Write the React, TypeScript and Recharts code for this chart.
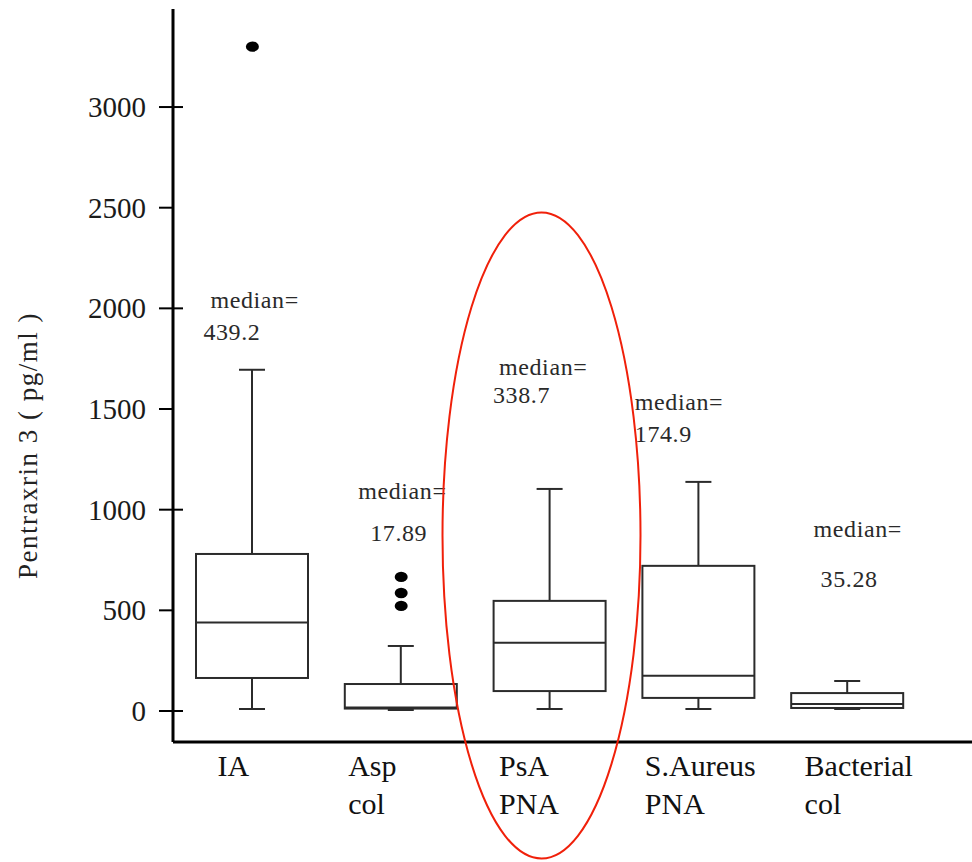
import React from "react";
import { ComposedChart, Bar, Line, XAxis, YAxis, ReferenceDot } from "recharts";

// groups and box statistics (pg/ml)
const groups = ["IA", "Asp col", "PsA PNA", "S.Aureus PNA", "Bacterial col"];
const mins = [10, 5, 10, 10, 10];
const q1s = [164, 12, 99, 65, 15];
const medians = [439.2, 17.89, 338.7, 174.9, 35.28];
const q3s = [780, 134, 547, 721, 89];
const maxes = [1695, 323, 1103, 1138, 149];
const outliers = [[3300], [666, 586, 522], [], [], []];
const medianLabels = ["439.2", "17.89", "338.7", "174.9", "35.28"];
const yTicks = [0, 500, 1000, 1500, 2000, 2500, 3000];

const FONT = "Liberation Serif, DejaVu Serif, serif";

// text placement (pixels relative to the category centre, y in axis units)
const tickDx = [-35, -53, -51, -54, -43];
const notePlace = [
  { dx1: -42, dx2: -49, y: 2002, gap: 32 },
  { dx1: -43, dx2: -31, y: 1053, gap: 42 },
  { dx1: -51, dx2: -57, y: 1669, gap: 28 },
  { dx1: -64, dx2: -64, y: 1495, gap: 32 },
  { dx1: -34, dx2: -27, y: 864, gap: 50 },
];

const rows = groups.map((name, i) => ({
  name,
  box: [mins[i], maxes[i]],
  min: mins[i],
  q1: q1s[i],
  med: medians[i],
  q3: q3s[i],
  max: maxes[i],
  out1: outliers[i][0] ?? null,
  out2: outliers[i][1] ?? null,
  out3: outliers[i][2] ?? null,
}));

function BoxShape(props: any) {
  const { x, y, width, height, payload } = props;
  const { min, max, q1, q3, med } = payload;
  const top = Math.min(y, y + height);
  const h = Math.abs(height);
  const py = (v: number) => top + (h * (max - v)) / (max - min);
  const cx = x + width / 2;
  const cap = 13;
  return (
    <g stroke="#2b2b2b" strokeWidth={2} fill="none">
      <line x1={cx} x2={cx} y1={py(max)} y2={py(q3)} />
      <line x1={cx} x2={cx} y1={py(q1)} y2={py(min)} />
      <line x1={cx - cap} x2={cx + cap} y1={py(max)} y2={py(max)} />
      <line x1={cx - cap} x2={cx + cap} y1={py(min)} y2={py(min)} />
      <rect x={x} y={py(q3)} width={width} height={py(q1) - py(q3)} fill="#fff" />
      <line x1={x} x2={x + width} y1={py(med)} y2={py(med)} />
    </g>
  );
}

function OutDot(props: any) {
  const { cx, cy, value, index } = props;
  if (value == null || cy == null || isNaN(cy)) return <g key={index} />;
  return <ellipse key={index} cx={cx} cy={cy} rx={6.5} ry={5.2} fill="#000" />;
}

function YTick(props: any) {
  const { x, y, payload } = props;
  const major = payload.value % 1000 === 0;
  return (
    <g>
      <line x1={x - 14} x2={x + (major ? 10 : 0)} y1={y} y2={y} stroke="#000" strokeWidth={2} />
      <text x={x - 27} y={y + 10} textAnchor="end" fill="#1a1a1a" style={{ fontFamily: FONT, fontSize: 29 }}>
        {payload.value}
      </text>
    </g>
  );
}

function XTick(props: any) {
  const { x, y, payload } = props;
  const i = groups.indexOf(payload.value);
  const lx = x + tickDx[i];
  return (
    <text x={lx} y={y + 34} fill="#111" style={{ fontFamily: FONT, fontSize: 30 }}>
      {payload.value.split(" ").map((part: string, k: number) => (
        <tspan key={k} x={lx} dy={k ? 38 : 0}>
          {part}
        </tspan>
      ))}
    </text>
  );
}

function YLabel(props: any) {
  const vb = props.viewBox;
  const cx = vb.x + 37;
  const cy = vb.y + vb.height / 2 + 70;
  return (
    <text
      x={cx}
      y={cy}
      transform={`rotate(-90, ${cx}, ${cy})`}
      textAnchor="middle"
      fill="#222"
      style={{ fontFamily: FONT, fontSize: 27, letterSpacing: 1.5 }}
    >
      Pentraxrin 3 ( pg/ml )
    </text>
  );
}

export default function App() {
  return (
    <div style={{ position: "absolute", left: 0, top: 0, background: "#fff", fontFamily: FONT }}>
      <ComposedChart width={972} height={862} data={rows} margin={{ top: 9, right: 0, bottom: 0, left: 0 }}>
        <XAxis
          dataKey="name"
          height={120}
          padding={{ left: 5, right: 50 }}
          interval={0}
          tickLine={false}
          tickSize={0}
          tickMargin={0}
          axisLine={{ stroke: "#000", strokeWidth: 3 }}
          tick={<XTick />}
        />
        <YAxis
          width={173}
          domain={[-154, 3487]}
          allowDataOverflow
          ticks={yTicks}
          tickLine={false}
          tickSize={0}
          tickMargin={0}
          axisLine={{ stroke: "#000", strokeWidth: 3 }}
          tick={<YTick />}
          label={(p: any) => <YLabel {...p} />}
        />
        <Bar dataKey="box" barSize={112} shape={<BoxShape />} isAnimationActive={false} />
        {["out1", "out2", "out3"].map((k) => (
          <Line
            key={k}
            dataKey={k}
            stroke="none"
            dot={(p: any) => <OutDot {...p} />}
            activeDot={false}
            legendType="none"
            isAnimationActive={false}
          />
        ))}
        {groups.map((g, i) => (
          <ReferenceDot
            key={g}
            x={g}
            y={notePlace[i].y}
            r={1}
            ifOverflow="visible"
            shape={(p: any) => (
              <text fill="#2a2a2a" style={{ fontFamily: FONT, fontSize: 24, letterSpacing: 0.6 }}>
                <tspan x={p.cx + notePlace[i].dx1} y={p.cy}>
                  median=
                </tspan>
                <tspan x={p.cx + notePlace[i].dx2} y={p.cy + notePlace[i].gap}>
                  {medianLabels[i]}
                </tspan>
              </text>
            )}
          />
        ))}
        <ReferenceDot
          x="PsA PNA"
          y={872}
          r={1}
          ifOverflow="visible"
          shape={(p: any) => (
            <ellipse cx={p.cx - 8.5} cy={p.cy} rx={99} ry={323} fill="none" stroke="#f0200a" strokeWidth={2} />
          )}
        />
      </ComposedChart>
    </div>
  );
}
